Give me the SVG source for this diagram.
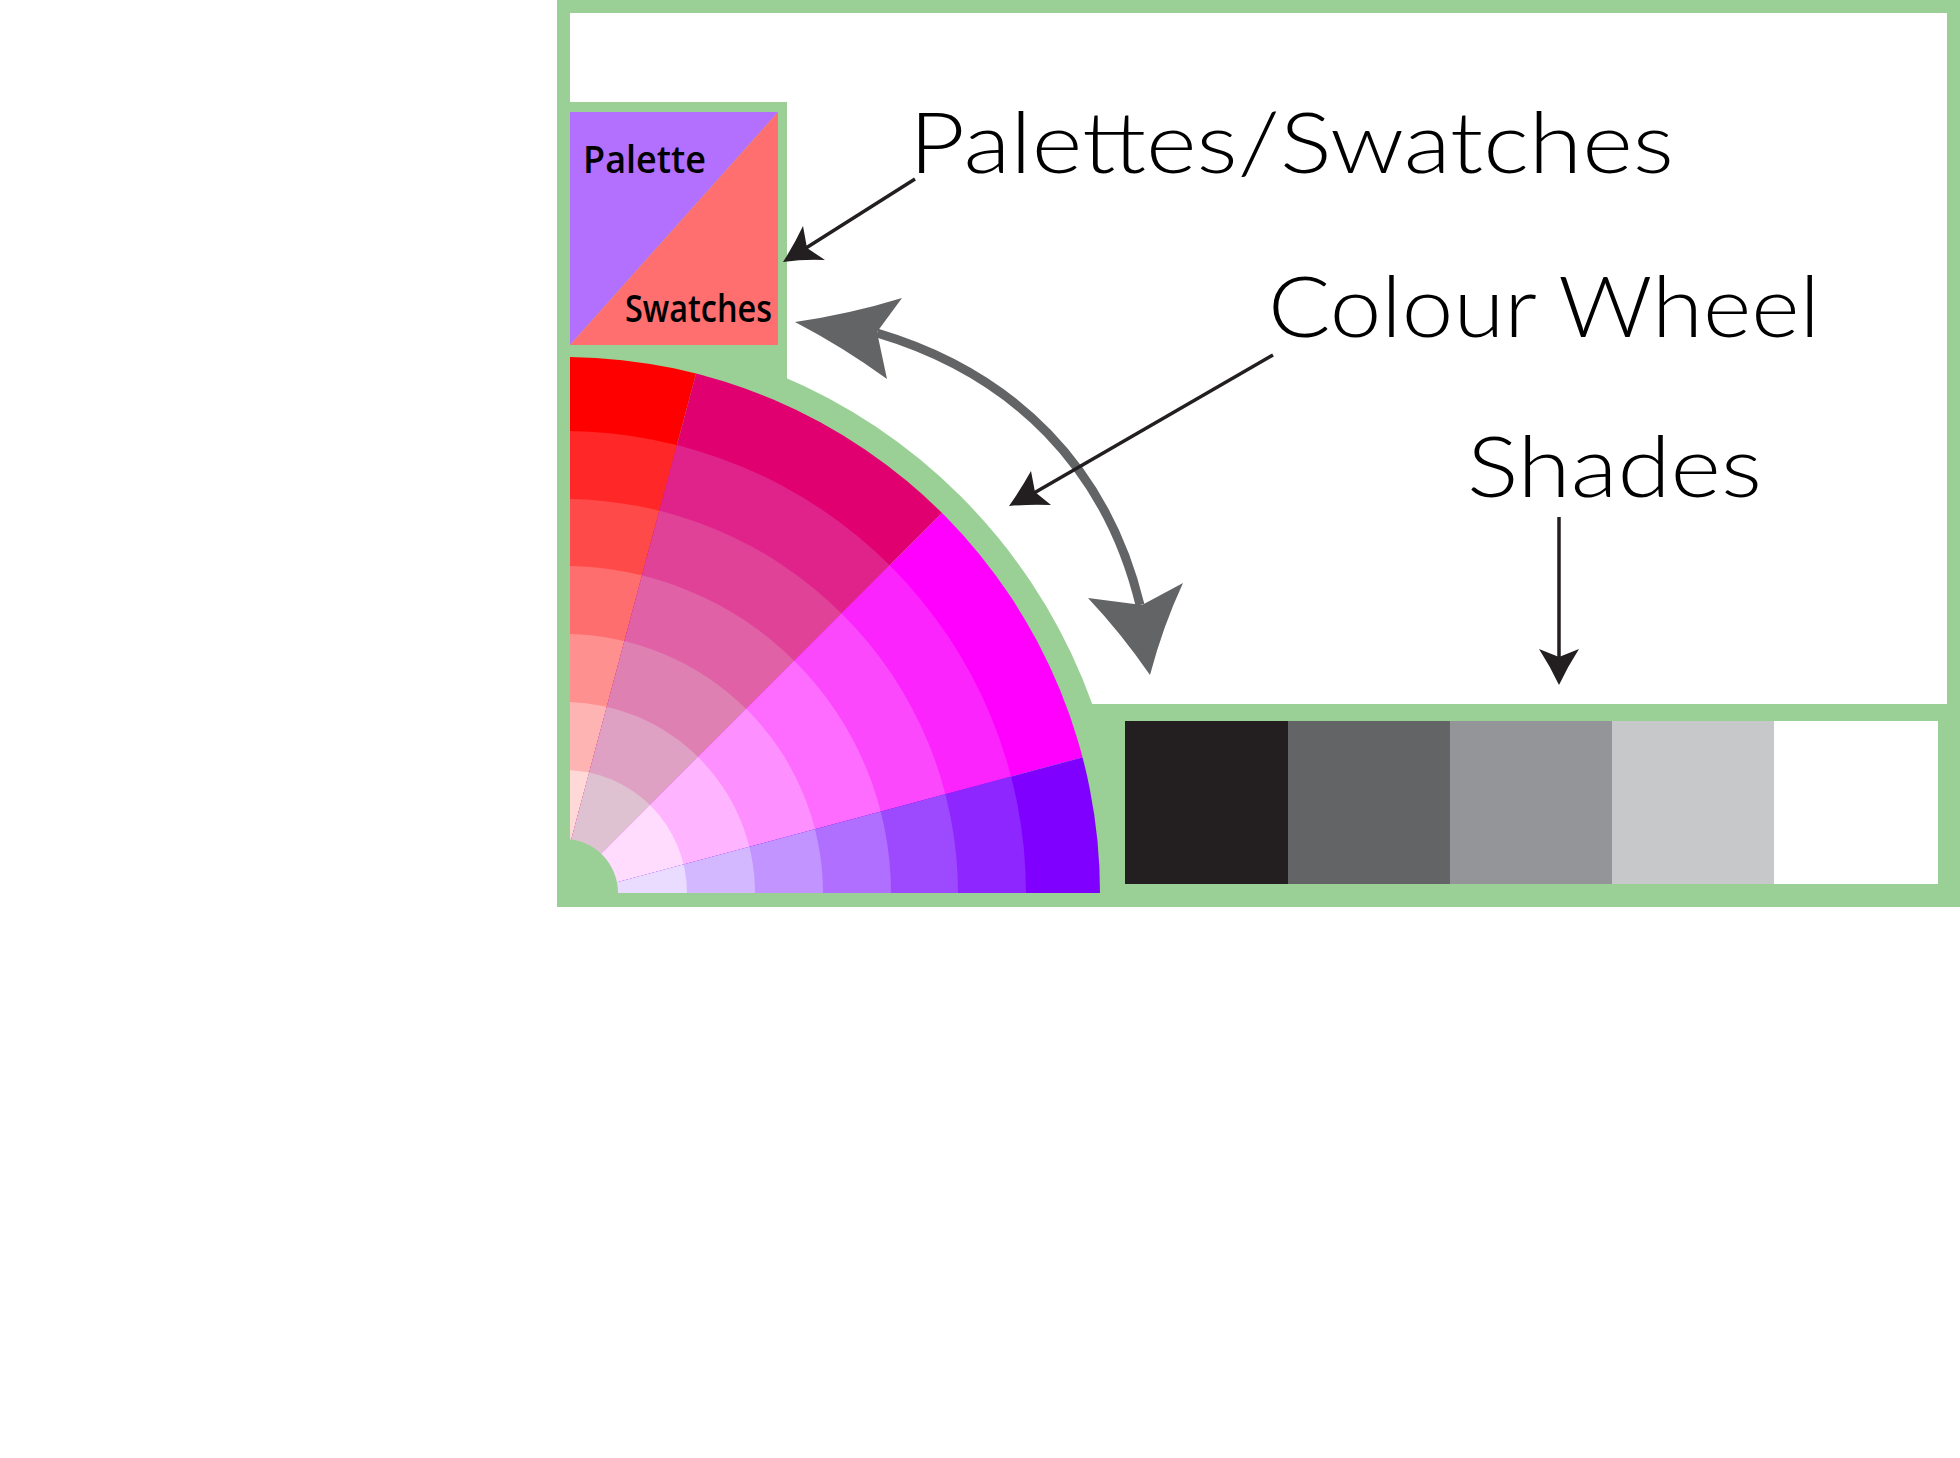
<svg xmlns="http://www.w3.org/2000/svg" width="1960" height="1458" viewBox="0 0 1960 1458">
  <style>
    .green { fill: #9ad096; }
    .label { font-family: "Lato", "Open Sans", "Liberation Sans", sans-serif; font-weight: 300; font-size: 84px; fill: #000; }
    .inner { font-family: "Open Sans", "Noto Sans", "Liberation Sans", sans-serif; font-weight: 600; font-size: 37px; fill: #000; }
    .blk { stroke: #231f20; stroke-width: 3.5; fill: none; }
    .blkhead { fill: #231f20; }
    .gry { stroke: #636466; stroke-width: 9; fill: none; }
    .gryhead { fill: #636466; }
  </style>
  <defs>
    <clipPath id="frameClip"><rect x="557" y="0" width="1403" height="907"/></clipPath>
    <clipPath id="wheelClip"><path d="M570,893 L570,357 A536,536 0 0 1 1100,893 Z"/></clipPath>
    <clipPath id="wRed"><polygon points="557,893 738,217 450,217 450,893"/></clipPath>
    <clipPath id="wPink"><polygon points="557,893 738,217 1162,293 562,893"/></clipPath>
    <clipPath id="wMag"><polygon points="562,893 1162,293 1300,699 570,895"/></clipPath>
    <clipPath id="wPur"><polygon points="570,895 1300,699 1300,1000 450,1000"/></clipPath>
  </defs>
  <rect width="1960" height="1458" fill="#ffffff"/>

  <g id="frame">
    <rect class="green" x="557" y="0" width="1403" height="907"/>
    <rect x="570" y="13" width="1377" height="691" fill="#ffffff"/>
    <rect class="green" x="570" y="102" width="217" height="320"/>
    <circle class="green" cx="564" cy="893" r="561" clip-path="url(#frameClip)"/>
  </g>

  <g id="palette">
    <polygon points="570,112 778,112 570,345" fill="#b36ffd"/>
    <polygon points="778,112 778,345 570,345" fill="#ff6f6f"/>
    <text class="inner" x="583" y="173" textLength="123" lengthAdjust="spacingAndGlyphs">Palette</text>
    <text class="inner" x="625" y="322" textLength="147" lengthAdjust="spacingAndGlyphs">Swatches</text>
  </g>

  <g id="colour-wheel" clip-path="url(#wheelClip)">
    <g clip-path="url(#wRed)">
      <circle cx="564" cy="893" r="540" fill="#ff0000"/>
      <circle cx="564" cy="893" r="462" fill="#ff2727"/>
      <circle cx="564" cy="893" r="394" fill="#ff4a4a"/>
      <circle cx="564" cy="893" r="327" fill="#ff6e6e"/>
      <circle cx="564" cy="893" r="259" fill="#ff9090"/>
      <circle cx="564" cy="893" r="191" fill="#ffb4b4"/>
      <circle cx="564" cy="893" r="123" fill="#ffd8d8"/>
    </g>
    <g clip-path="url(#wPink)">
      <circle cx="564" cy="893" r="540" fill="#e0006f"/>
      <circle cx="564" cy="893" r="462" fill="#e0238a"/>
      <circle cx="564" cy="893" r="394" fill="#df4297"/>
      <circle cx="564" cy="893" r="327" fill="#e061a6"/>
      <circle cx="564" cy="893" r="259" fill="#df80b3"/>
      <circle cx="564" cy="893" r="191" fill="#dfa1c3"/>
      <circle cx="564" cy="893" r="123" fill="#dfc2d1"/>
    </g>
    <g clip-path="url(#wMag)">
      <circle cx="564" cy="893" r="540" fill="#ff00ff"/>
      <circle cx="564" cy="893" r="462" fill="#fb24fd"/>
      <circle cx="564" cy="893" r="394" fill="#fc48fd"/>
      <circle cx="564" cy="893" r="327" fill="#fd6cfe"/>
      <circle cx="564" cy="893" r="259" fill="#fd90fe"/>
      <circle cx="564" cy="893" r="191" fill="#feb4fe"/>
      <circle cx="564" cy="893" r="123" fill="#ffdbfd"/>
    </g>
    <g clip-path="url(#wPur)">
      <circle cx="564" cy="893" r="540" fill="#8000ff"/>
      <circle cx="564" cy="893" r="462" fill="#8d26ff"/>
      <circle cx="564" cy="893" r="394" fill="#9d4aff"/>
      <circle cx="564" cy="893" r="327" fill="#b06fff"/>
      <circle cx="564" cy="893" r="259" fill="#c194ff"/>
      <circle cx="564" cy="893" r="191" fill="#d4b8ff"/>
      <circle cx="564" cy="893" r="123" fill="#eadcff"/>
    </g>
  </g>
  <g id="wheel-hub">
    <circle class="green" cx="564" cy="893" r="54" clip-path="url(#frameClip)"/>
  </g>

  <g id="shades">
    <rect x="1125" y="721" width="163" height="163" fill="#231f20"/>
    <rect x="1288" y="721" width="162" height="163" fill="#636466"/>
    <rect x="1450" y="721" width="162" height="163" fill="#939598"/>
    <rect x="1612" y="721" width="162" height="163" fill="#c7c8ca"/>
    <rect x="1774" y="721" width="164" height="163" fill="#ffffff"/>
  </g>

  <g id="connectors">
    <path class="gry" d="M877,333 C1015,374 1107,469 1140,605"/>
    <path class="gryhead" d="M795,322 Q850,314 902,298 L877,332 L887,379 Q843,347 795,322 Z"/>
    <path class="gryhead" d="M1150,675 Q1121,633 1088,598 L1142,605 L1183,583 Q1163,626 1150,675 Z"/>
    <line class="blk" x1="915" y1="179" x2="806" y2="248"/>
    <path class="blkhead" d="M783,262 Q794,245 803,226 L807,248 L825,260 Q804,259 783,262 Z"/>
    <line class="blk" x1="1273" y1="355" x2="1034" y2="493"/>
    <path class="blkhead" d="M1009,506 Q1021,489 1031,471 L1035,492 L1051,505 Q1030,504 1009,506 Z"/>
    <line class="blk" x1="1559" y1="517" x2="1559" y2="658"/>
    <path class="blkhead" d="M1559,685 Q1550,666 1539,649 L1559,657 L1579,649 Q1568,666 1559,685 Z"/>
  </g>

  <g id="label-palettes">
    <text class="label" x="909" y="173" textLength="765" lengthAdjust="spacingAndGlyphs">Palettes/Swatches</text>
  </g>
  <g id="label-wheel">
    <text class="label" x="1268" y="337" textLength="552" lengthAdjust="spacingAndGlyphs">Colour Wheel</text>
  </g>
  <g id="label-shades">
    <text class="label" x="1467" y="497" textLength="295" lengthAdjust="spacingAndGlyphs">Shades</text>
  </g>
</svg>
